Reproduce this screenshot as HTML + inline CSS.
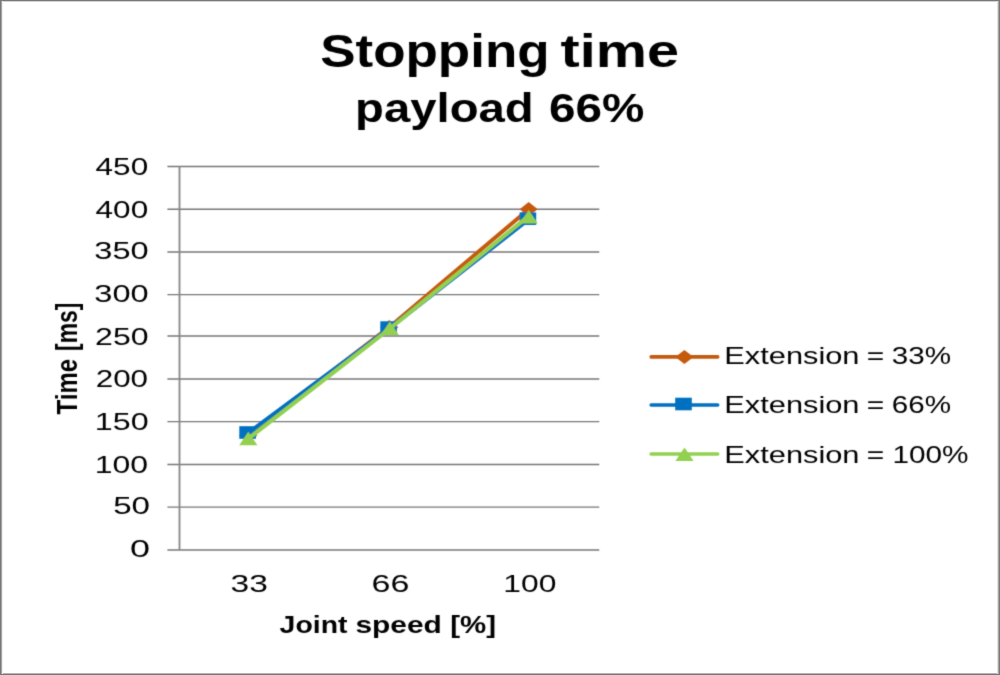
<!DOCTYPE html>
<html><head><meta charset="utf-8"><style>
html,body{margin:0;padding:0;background:#fff;}
#c{position:relative;width:1000px;height:675px;overflow:hidden;background:#fff;}

svg{position:absolute;left:0;top:0;}
text{font-family:"Liberation Sans",sans-serif;fill:#000;}
</style></head><body><div id="c">
<svg width="1000" height="675" viewBox="0 0 1000 675">
<defs><filter id="bl" x="0" y="0" width="1000" height="675" filterUnits="userSpaceOnUse"><feConvolveMatrix order="3" kernelMatrix="0.01917 0.10012 0.01917 0.10012 0.52283 0.10012 0.01917 0.10012 0.01917" edgeMode="none" preserveAlpha="false"/></filter></defs>
<g filter="url(#bl)">
<line x1="167.4" y1="550.00" x2="599.3" y2="550.00" stroke="#777777" stroke-width="1.4"/>
<line x1="167.4" y1="507.10" x2="599.3" y2="507.10" stroke="#777777" stroke-width="1.4"/>
<line x1="167.4" y1="464.50" x2="599.3" y2="464.50" stroke="#777777" stroke-width="1.4"/>
<line x1="167.4" y1="421.60" x2="599.3" y2="421.60" stroke="#777777" stroke-width="1.4"/>
<line x1="167.4" y1="379.00" x2="599.3" y2="379.00" stroke="#777777" stroke-width="1.4"/>
<line x1="167.4" y1="336.00" x2="599.3" y2="336.00" stroke="#777777" stroke-width="1.4"/>
<line x1="167.4" y1="294.65" x2="599.3" y2="294.65" stroke="#777777" stroke-width="1.4"/>
<line x1="167.4" y1="252.00" x2="599.3" y2="252.00" stroke="#777777" stroke-width="1.4"/>
<line x1="167.4" y1="209.20" x2="599.3" y2="209.20" stroke="#777777" stroke-width="1.4"/>
<line x1="167.4" y1="166.50" x2="599.3" y2="166.50" stroke="#777777" stroke-width="1.4"/>
<line x1="179.5" y1="166.50" x2="179.5" y2="550.00" stroke="#868686" stroke-width="1.8"/>
<polyline points="248.30,435.40 389.30,327.20 528.70,209.20" fill="none" stroke="#C55A11" stroke-width="4.05" stroke-linejoin="round" stroke-linecap="round"/>
<polygon points="239.20,435.40 248.30,428.30 257.40,435.40 248.30,442.50" fill="#C55A11"/>
<polygon points="380.20,327.20 389.30,320.10 398.40,327.20 389.30,334.30" fill="#C55A11"/>
<polygon points="519.60,209.20 528.70,202.10 537.80,209.20 528.70,216.30" fill="#C55A11"/>
<polyline points="247.60,433.30 388.60,329.00 527.90,220.00" fill="none" stroke="#0070C0" stroke-width="4.05" stroke-linejoin="round" stroke-linecap="round"/>
<rect x="239.30" y="426.20" width="16.6" height="12.6" fill="#0070C0"/>
<rect x="380.30" y="321.30" width="16.6" height="12.6" fill="#0070C0"/>
<rect x="519.60" y="212.40" width="16.6" height="12.6" fill="#0070C0"/>
<polyline points="248.30,438.60 390.00,328.50 528.70,216.00" fill="none" stroke="#92D050" stroke-width="4.05" stroke-linejoin="round" stroke-linecap="round"/>
<polygon points="239.20,445.30 248.30,431.70 257.40,445.30" fill="#92D050"/>
<polygon points="380.70,335.10 389.80,321.50 398.90,335.10" fill="#92D050"/>
<polygon points="519.60,223.60 528.70,210.00 537.80,223.60" fill="#92D050"/>
<text x="95.60" y="175.20" font-size="23.7" textLength="52.60" lengthAdjust="spacingAndGlyphs">450</text>
<text x="95.60" y="217.80" font-size="23.7" textLength="52.60" lengthAdjust="spacingAndGlyphs">400</text>
<text x="94.30" y="259.20" font-size="23.7" textLength="54.30" lengthAdjust="spacingAndGlyphs">350</text>
<text x="94.30" y="302.20" font-size="23.7" textLength="54.30" lengthAdjust="spacingAndGlyphs">300</text>
<text x="95.10" y="344.70" font-size="23.7" textLength="53.50" lengthAdjust="spacingAndGlyphs">250</text>
<text x="95.70" y="387.20" font-size="23.7" textLength="52.40" lengthAdjust="spacingAndGlyphs">200</text>
<text x="94.80" y="430.00" font-size="23.7" textLength="53.80" lengthAdjust="spacingAndGlyphs">150</text>
<text x="94.80" y="472.80" font-size="23.7" textLength="53.30" lengthAdjust="spacingAndGlyphs">100</text>
<text x="113.20" y="514.40" font-size="23.7" textLength="36.90" lengthAdjust="spacingAndGlyphs">50</text>
<text x="130.10" y="557.20" font-size="23.7" textLength="20.00" lengthAdjust="spacingAndGlyphs">0</text>
<text x="230.50" y="591.90" font-size="23.7" textLength="37.30" lengthAdjust="spacingAndGlyphs">33</text>
<text x="371.50" y="591.90" font-size="23.7" textLength="37.80" lengthAdjust="spacingAndGlyphs">66</text>
<text x="503.30" y="591.90" font-size="23.7" textLength="53.10" lengthAdjust="spacingAndGlyphs">100</text>
<text x="320.20" y="67.00" font-size="45.3" font-weight="bold" textLength="229.40" lengthAdjust="spacingAndGlyphs">Stopping</text>
<text x="560.60" y="67.00" font-size="45.3" font-weight="bold" textLength="118.40" lengthAdjust="spacingAndGlyphs">time</text>
<text x="355.10" y="121.70" font-size="39.8" font-weight="bold" textLength="178.60" lengthAdjust="spacingAndGlyphs">payload</text>
<text x="549.00" y="121.70" font-size="39.8" font-weight="bold" textLength="95.40" lengthAdjust="spacingAndGlyphs">66%</text>
<text x="279.60" y="633.20" font-size="23.2" font-weight="bold" textLength="67.90" lengthAdjust="spacingAndGlyphs">Joint</text>
<text x="355.40" y="633.20" font-size="23.2" font-weight="bold" textLength="86.40" lengthAdjust="spacingAndGlyphs">speed</text>
<text x="450.20" y="633.20" font-size="23.2" font-weight="bold" textLength="45.80" lengthAdjust="spacingAndGlyphs">[%]</text>
<text x="724.30" y="363.70" font-size="23.4" textLength="135.20" lengthAdjust="spacingAndGlyphs">Extension</text>
<text x="866.80" y="363.70" font-size="23.4" textLength="17.50" lengthAdjust="spacingAndGlyphs">=</text>
<text x="891.80" y="363.70" font-size="23.4" textLength="59.20" lengthAdjust="spacingAndGlyphs">33%</text>
<text x="724.30" y="413.40" font-size="23.4" textLength="135.20" lengthAdjust="spacingAndGlyphs">Extension</text>
<text x="866.80" y="413.40" font-size="23.4" textLength="17.50" lengthAdjust="spacingAndGlyphs">=</text>
<text x="891.80" y="413.40" font-size="23.4" textLength="59.20" lengthAdjust="spacingAndGlyphs">66%</text>
<text x="724.30" y="462.70" font-size="23.4" textLength="135.20" lengthAdjust="spacingAndGlyphs">Extension</text>
<text x="866.80" y="462.70" font-size="23.4" textLength="17.50" lengthAdjust="spacingAndGlyphs">=</text>
<text x="892.40" y="462.70" font-size="23.4" textLength="76.10" lengthAdjust="spacingAndGlyphs">100%</text>
<g transform="translate(76.60,0.00) scale(1.27,1) rotate(-90)"><text x="-414.50" y="0.00" font-size="23.2" font-weight="bold" textLength="55.60" lengthAdjust="spacingAndGlyphs">Time</text></g>
<g transform="translate(76.60,0.00) scale(1.27,1) rotate(-90)"><text x="-350.90" y="0.00" font-size="23.2" font-weight="bold" textLength="48.40" lengthAdjust="spacingAndGlyphs">[ms]</text></g>
<line x1="651.2" y1="356.9" x2="717.7" y2="356.9" stroke="#C55A11" stroke-width="3.6" stroke-linecap="round"/>
<polygon points="675.30,357.00 684.40,349.90 693.50,357.00 684.40,364.10" fill="#C55A11"/>
<line x1="651.2" y1="405.0" x2="717.7" y2="405.0" stroke="#0070C0" stroke-width="3.6" stroke-linecap="round"/>
<rect x="675.20" y="397.70" width="16.6" height="12.6" fill="#0070C0"/>
<line x1="651.2" y1="454.0" x2="717.7" y2="454.0" stroke="#92D050" stroke-width="3.6" stroke-linecap="round"/>
<polygon points="675.40,461.00 684.50,447.40 693.60,461.00" fill="#92D050"/>
</g>
<g shape-rendering="crispEdges"><rect x="0" y="1" width="1000" height="1" fill="#d2d2d2"/><rect x="0" y="673" width="1000" height="1" fill="#b4b4b4"/><rect x="2" y="0" width="1" height="675" fill="#f0f0f0"/><rect x="1" y="0" width="1" height="675" fill="#a5a5a5"/><rect x="997" y="0" width="1" height="675" fill="#e0e0e0"/><rect x="998" y="0" width="1" height="675" fill="#a8a8a8"/><rect x="0" y="0" width="1000" height="1" fill="#787878"/><rect x="0" y="674" width="1000" height="1" fill="#787878"/><rect x="0" y="0" width="1" height="675" fill="#787878"/><rect x="999" y="0" width="1" height="675" fill="#787878"/></g>
</svg></div></body></html>
